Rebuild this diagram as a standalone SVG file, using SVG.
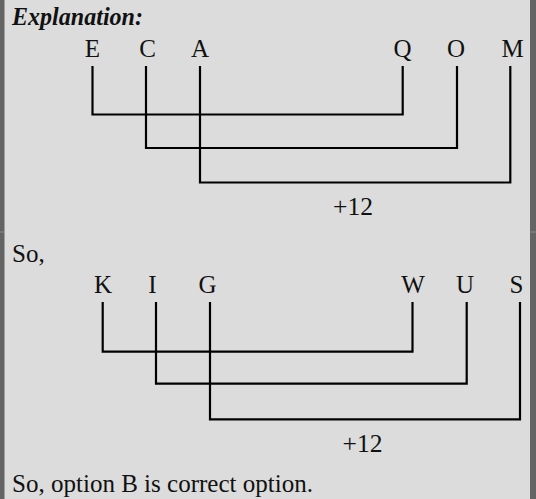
<svg xmlns="http://www.w3.org/2000/svg" width="536" height="499" viewBox="0 0 536 499">
<style>
.t{font-family:"Liberation Serif","Times New Roman",serif;font-size:25px;fill:#111}
.c{text-anchor:middle}
.ln{fill:none;stroke:#000;stroke-width:2.2}
</style>
<rect x="0" y="0" width="536" height="499" fill="#dcdcdc"/>
<rect x="0" y="0" width="4.5" height="499" fill="#646464"/>
<rect x="530" y="0" width="6" height="499" fill="#646464"/>
<rect x="0" y="231.5" width="4.5" height="1" fill="#8a8a8a"/>
<rect x="530" y="231.5" width="6" height="1" fill="#8a8a8a"/>
<g id="heading"><text class="t" x="12" y="25" font-weight="bold" font-style="italic" textLength="131" lengthAdjust="spacingAndGlyphs">Explanation:</text></g>
<g id="top-letters">
<g id="n-E"><text class="t c" x="92.5" y="57">E</text></g>
<g id="n-C"><text class="t c" x="147.5" y="57">C</text></g>
<g id="n-A"><text class="t c" x="200" y="57">A</text></g>
<g id="n-Q"><text class="t c" x="402.5" y="57">Q</text></g>
<g id="n-O"><text class="t c" x="456" y="57">O</text></g>
<g id="n-M"><text class="t c" x="512.5" y="57">M</text></g>
</g>
<g id="top-label"><text class="t" x="333" y="215" textLength="40" lengthAdjust="spacingAndGlyphs">+12</text></g>
<g id="so"><text class="t" x="12" y="262">So,</text></g>
<g id="bottom-letters">
<g id="n-K"><text class="t c" x="103" y="293">K</text></g>
<g id="n-I"><text class="t c" x="152.5" y="293">I</text></g>
<g id="n-G"><text class="t c" x="207.5" y="293">G</text></g>
<g id="n-W"><text class="t c" x="413" y="293">W</text></g>
<g id="n-U"><text class="t c" x="465" y="293">U</text></g>
<g id="n-S"><text class="t c" x="516.5" y="293">S</text></g>
</g>
<g id="bottom-label"><text class="t" x="342.5" y="452" textLength="40" lengthAdjust="spacingAndGlyphs">+12</text></g>
<g id="conclusion"><text class="t" x="12" y="492" textLength="301" lengthAdjust="spacingAndGlyphs">So, option B is correct option.</text></g>
<g id="connectors">
<path class="ln" d="M92.5,66 V114.5 H402.7 V66"/>
<path class="ln" d="M146,66 V148 H457 V66"/>
<path class="ln" d="M200,66 V182.5 H510.3 V66"/>
<path class="ln" d="M102.7,302 V351.7 H412.5 V302"/>
<path class="ln" d="M156,302 V383.7 H466.7 V302"/>
<path class="ln" d="M210,302 V419.3 H520 V302"/>
</g>
</svg>
